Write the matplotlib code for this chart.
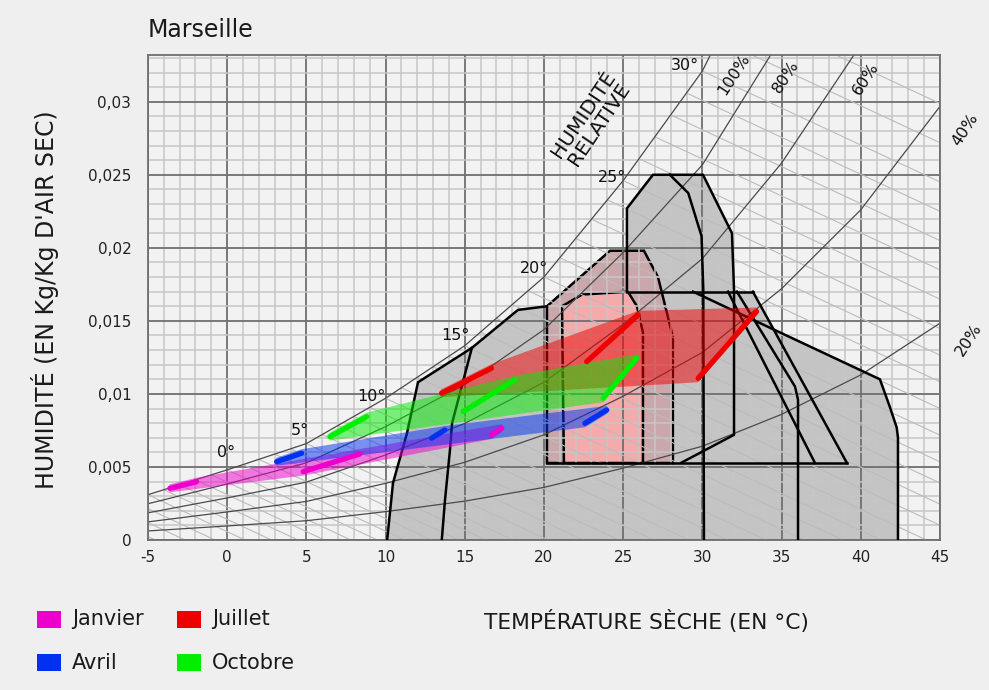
import matplotlib
matplotlib.use('Agg')
import matplotlib.pyplot as plt
from matplotlib.patches import Polygon, Rectangle
import numpy as np

plt.rcParams['axes.unicode_minus'] = False

# --- psychrometric background ---
sat_temp = [-5, 0, 5, 10, 15, 20, 25, 30, 35, 40, 45]
sat_hum = [0.0031, 0.0048, 0.0066, 0.0097, 0.0133, 0.0180, 0.0246, 0.0321, 0.0430, 0.0565, 0.0742]
rh_levels = [1.0, 0.8, 0.6, 0.4, 0.2]
rh_labels = ['100%', '80%', '60%', '40%', '20%']
rh_label_pos = [(32.0, 0.0319), (35.3, 0.0317), (40.3, 0.0316), (46.6, 0.0281), (46.8, 0.0137)]
temp_labels = ['0°', '5°', '10°', '15°', '20°', '25°', '30°']
temp_label_pos = [(-0.1, 0.0060), (4.6, 0.0075), (9.1, 0.0098), (14.4, 0.0140),
                  (19.4, 0.0186), (24.3, 0.0248), (28.9, 0.0325)]
wet_bulb_temps = list(range(-9, 33))
wet_bulb_slope = 0.000506

# --- bioclimatic zones (T in °C, humidity in kg/kg) ---
zone_envelope = [(10.1, 0), (10.47, 0.0039), (11.35, 0.0073), (12.05, 0.0108), (15.45, 0.01315),
                 (18.36, 0.01575), (20.19, 0.0160), (24.17, 0.0198), (25.24, 0.0198), (25.24, 0.0227),
                 (26.88, 0.0250), (30.04, 0.0250), (31.87, 0.0210), (32.0, 0.0171), (33.19, 0.0170),
                 (34.5, 0.0144), (41.21, 0.0110), (41.84, 0.0091), (42.27, 0.0077), (42.35, 0.0070),
                 (42.35, 0)]
zone_brown = [(20.19, 0.00527), (20.19, 0.0160), (24.17, 0.0198), (26.31, 0.0198), (27.2, 0.0180),
              (28.14, 0.0139), (28.14, 0.00527)]
zone_pink = [(21.26, 0.00527), (21.14, 0.0160), (22.4, 0.0168), (25.3, 0.0170), (25.87, 0.0160),
             (26.25, 0.0142), (26.25, 0.00527)]
outlines = [
    [(10.1, 0), (10.47, 0.0039), (11.35, 0.0073), (12.05, 0.0108), (15.45, 0.01315), (18.36, 0.01575), (20.19, 0.0160)],
    [(13.55, 0), (13.75, 0.0027), (14.07, 0.0062), (14.2, 0.0080), (15.45, 0.01315)],
    [(25.24, 0.0170), (25.24, 0.0227), (26.88, 0.0250), (30.04, 0.0250), (31.87, 0.0210), (32.0, 0.0171),
     (32.0, 0.0072), (28.69, 0.0053)],
    [(27.95, 0.0250), (29.11, 0.02375), (29.95, 0.0208), (30.06, 0.0171), (30.1, 0)],
    [(25.24, 0.0170), (33.19, 0.0170)],
    [(33.19, 0.0170), (39.13, 0.00527)],
    [(31.62, 0.0170), (37.11, 0.00527)],
    [(32.18, 0.0170), (35.85, 0.0105), (36.04, 0.0096), (36.04, 0)],
    [(29.41, 0.0170), (41.21, 0.0110), (41.84, 0.0091), (42.27, 0.0077), (42.35, 0.0070), (42.35, 0)],
    [(20.19, 0.00527), (39.13, 0.00527)],
]

# --- monthly data: three segments (start, end) per month ---
months = ['Janvier', 'Avril', 'Juillet', 'Octobre']
month_colors = ['#ee00cc', '#0030f0', '#ee0000', '#00ee00']
jan_segments = [((-3.61, 0.00354), (-1.93, 0.00399)), ((4.80, 0.00468), (8.38, 0.00589)),
                ((16.70, 0.00719), (17.33, 0.00765))]
apr_segments = [((3.13, 0.00536), (4.70, 0.00594)), ((12.91, 0.00697), (13.74, 0.00753)),
                ((22.59, 0.00799), (23.96, 0.00890))]
jul_segments = [((13.54, 0.01005), (16.69, 0.01176)), ((22.70, 0.01221), (25.95, 0.01541)),
                ((29.74, 0.01107), (33.42, 0.01564))]
oct_segments = [((6.49, 0.00708), (8.81, 0.00844)), ((14.90, 0.00879), (18.16, 0.01096)),
                ((23.75, 0.00971), (25.85, 0.01244))]
month_segments = [jan_segments, apr_segments, jul_segments, oct_segments]


def band_outline(points, trans, pad=4.0):
    # padded convex hull of the month's segment ends, built in display space
    pix = []
    for p in trans.transform(points):
        for dx, dy in [(0, pad), (0, -pad), (pad * 0.7, 0), (-pad * 0.7, 0)]:
            pix.append((p[0] + dx, p[1] + dy))
    pix.sort()

    def cross(o, a, b):
        return (a[0] - o[0]) * (b[1] - o[1]) - (a[1] - o[1]) * (b[0] - o[0])

    lower, upper = [], []
    for q in pix:
        while len(lower) >= 2 and cross(lower[-2], lower[-1], q) <= 0:
            lower.pop()
        lower.append(q)
    for q in reversed(pix):
        while len(upper) >= 2 and cross(upper[-2], upper[-1], q) <= 0:
            upper.pop()
        upper.append(q)
    return trans.inverted().transform(lower[:-1] + upper[:-1])


fig = plt.figure(figsize=(9.89, 6.90), dpi=100, facecolor='#efefef')
ax = fig.add_axes([0.1496, 0.2174, 0.8008, 0.7029])
ax.set_facecolor('#f2f2f2')
ax.set_xlim(-5, 45)
ax.set_ylim(0, 0.0332)

# grid
ax.set_xticks(range(-5, 46, 5))
ax.set_xticks(np.arange(-5, 46, 1), minor=True)
ax.set_yticks([0, 0.005, 0.01, 0.015, 0.02, 0.025, 0.03])
ax.set_yticks(np.arange(0, 0.0335, 0.001), minor=True)
ax.set_yticklabels(['0', '0,005', '0,01', '0,015', '0,02', '0,025', '0,03'])
ax.set_axisbelow('line')
ax.grid(which='minor', color='#c6c6c6', lw=1.1)
ax.grid(which='major', color='#6f6f6f', lw=1.3)
ax.tick_params(which='both', length=0, labelsize=11, colors='#222222')
ax.tick_params(axis='x', pad=7)
ax.tick_params(axis='y', pad=12)
for s in ax.spines.values():
    s.set_color('#6f6f6f')
    s.set_linewidth(1.3)

# zones
ax.add_patch(Polygon(zone_envelope, closed=True, facecolor='#c4c4c4', edgecolor='none', zorder=1))
ax.add_patch(Polygon(zone_brown, closed=True, facecolor='#c9a7aa', edgecolor='black', lw=1.8, zorder=1.2))
ax.add_patch(Polygon(zone_pink, closed=True, facecolor='#f3abab', edgecolor='black', lw=1.8, zorder=1.3))
for line in outlines:
    xs, ys = zip(*line)
    ax.plot(xs, ys, color='black', lw=1.8, zorder=3)

# saturation region used to clip the wet-bulb lines
sat_region = Polygon(list(zip(sat_temp, sat_hum)) + [(45, 0), (-5, 0)], closed=True,
                     transform=ax.transData, facecolor='none', edgecolor='none')
ax.add_patch(sat_region)
for tw in wet_bulb_temps:
    w0 = np.interp(tw, sat_temp, sat_hum) if tw >= -5 else sat_hum[0] - 0.00045 * (-5 - tw)
    t_end = tw + w0 / wet_bulb_slope
    ln, = ax.plot([tw, t_end], [w0, 0], color='#bcbcbc', lw=0.8, zorder=1.6)
    ln.set_clip_path(sat_region)

# relative humidity curves
for rh in rh_levels:
    ax.plot(sat_temp, [rh * w for w in sat_hum], color='#4a4a4a', lw=0.9, zorder=2)

for lab, (tx, ty) in zip(temp_labels, temp_label_pos):
    ax.text(tx, ty, lab, fontsize=11.5, ha='center', va='center', color='#111111', zorder=6)
for lab, (tx, ty) in zip(rh_labels, rh_label_pos):
    ax.text(tx, ty, lab, fontsize=11.5, ha='center', va='center', rotation=57,
            color='#111111', clip_on=False, zorder=6)
ax.text(23.0, 0.0288, 'HUMIDITÉ\nRELATIVE', fontsize=14.5, ha='center', va='center',
        rotation=56, linespacing=0.95, color='#111111', zorder=6)

# monthly bands and segments
for segs, col in zip(month_segments, month_colors):
    pts = [p for seg in segs for p in seg]
    ax.add_patch(Polygon(band_outline(pts, ax.transData), closed=True, facecolor=col,
                         alpha=0.5, edgecolor='none', zorder=4))
    for (p0, p1) in segs:
        ax.plot([p0[0], p1[0]], [p0[1], p1[1]], color=col, lw=3.8, solid_capstyle='round', zorder=5)

# titles and labels
fig.text(0.1496, 0.9565, 'Marseille', fontsize=17, ha='left', va='center', color='#1a1a1a')
fig.text(0.0455, 0.5652, "HUMIDITÉ (EN Kg/Kg D'AIR SEC)", fontsize=17, rotation=90,
         ha='center', va='center', color='#1a1a1a')
fig.text(0.654, 0.0986, 'TEMPÉRATURE SÈCHE (EN °C)', fontsize=15.7, ha='center', va='center',
         color='#1a1a1a')

# legend
legend_x = [0.0371, 0.179]
legend_y = [0.0903, 0.0275]
legend_order = [(0, 0, 0), (2, 1, 0), (1, 0, 1), (3, 1, 1)]
for idx, cx, ry in legend_order:
    fig.patches.append(Rectangle((legend_x[cx], legend_y[ry]), 0.0243, 0.0242,
                                 transform=fig.transFigure, facecolor=month_colors[idx],
                                 edgecolor='none'))
    fig.text(legend_x[cx] + 0.0354, legend_y[ry] + 0.0121, months[idx], fontsize=15,
             ha='left', va='center', color='#1a1a1a')

fig.savefig('out.png', dpi=100, facecolor=fig.get_facecolor())
